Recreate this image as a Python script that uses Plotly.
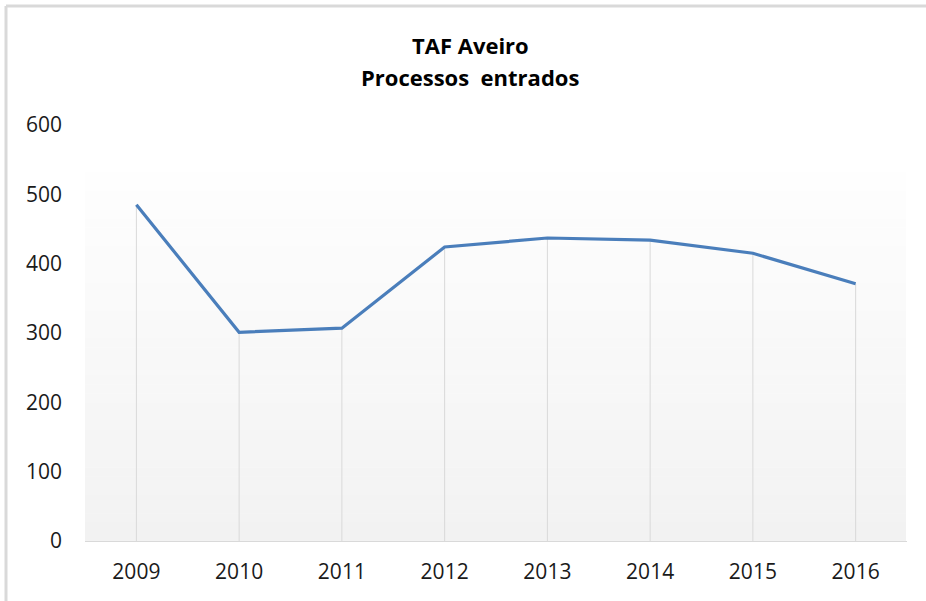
import plotly.graph_objects as go

# Dados
anos = ["2009", "2010", "2011", "2012", "2013", "2014", "2015", "2016"]
processos = [485, 301, 307, 424, 437, 434, 415, 371]
y_ticks = [0, 100, 200, 300, 400, 500, 600]

W, H = 926, 601
ml, mr, mt, mb = 85, 19, 125, 60
pw, ph = W - ml - mr, H - mt - mb

def px_x(p):
    return (p - ml) / pw

def px_y(p):
    return (H - mb - p) / ph

fonte = "Open Sans"

fig = go.Figure()

# linhas de queda (drop lines) ate ao eixo
fig.add_trace(go.Scatter(
    x=anos, y=processos, mode="markers",
    marker=dict(size=0.1, opacity=0),
    error_y=dict(type="data", symmetric=False, array=[0] * len(processos),
                 arrayminus=processos, color="#d9d9d9", thickness=1, width=0),
    hoverinfo="skip", showlegend=False,
))

fig.add_trace(go.Scatter(
    x=anos, y=processos, mode="lines",
    line=dict(color="#4a7ebb", width=3.2),
    showlegend=False,
))

# fundo em gradiente da area do grafico
shapes = []
n = 40
top = px_y(172)
c0, c1 = (254, 254, 254), (242, 242, 242)
for i in range(n):
    t = (i + 0.5) / n
    c = tuple(round(c0[k] + (c1[k] - c0[k]) * t) for k in range(3))
    shapes.append(dict(
        type="rect", xref="paper", yref="paper", layer="below",
        x0=0, x1=px_x(906), y0=top - top * i / n, y1=top - top * (i + 1) / n - 0.001,
        fillcolor="rgb(%d,%d,%d)" % c, line=dict(width=0),
    ))

# moldura exterior (recortada)
shapes.append(dict(type="line", xref="paper", yref="paper",
                   x0=px_x(6), x1=px_x(W + 2), y0=px_y(6), y1=px_y(6),
                   line=dict(color="#d9d9d9", width=3)))
shapes.append(dict(type="line", xref="paper", yref="paper",
                   x0=px_x(6), x1=px_x(6), y0=px_y(6), y1=px_y(H + 2),
                   line=dict(color="#d9d9d9", width=3)))

# titulo em duas linhas
titulo = ["TAF Aveiro", "Processos  entrados"]
annotations = []
for linha, yc in zip(titulo, [45, 77]):
    annotations.append(dict(
        text="<b>%s</b>" % linha, xref="paper", yref="paper",
        x=px_x(470), y=px_y(yc), xanchor="center", yanchor="middle",
        showarrow=False, font=dict(family=fonte, size=22, color="black"),
    ))

fig.update_layout(
    width=W, height=H,
    margin=dict(l=ml, r=mr, t=mt, b=mb),
    paper_bgcolor="white", plot_bgcolor="rgba(0,0,0,0)",
    shapes=shapes, annotations=annotations,
    font=dict(family=fonte, size=21, color="#1a1a1a"),
    xaxis=dict(
        type="category", range=[-0.5, 7.5],
        showgrid=False, showline=True, linecolor="#d9d9d9", linewidth=1,
        ticks="", ticklabelstandoff=12, zeroline=False,
    ),
    yaxis=dict(
        range=[0, 600], tickvals=y_ticks,
        showgrid=False, showline=False, zeroline=False,
        ticks="", ticklabelstandoff=22,
    ),
)

fig.write_html("out.html", config={"displayModeBar": False},
               post_script="document.body.style.margin='0px';")
